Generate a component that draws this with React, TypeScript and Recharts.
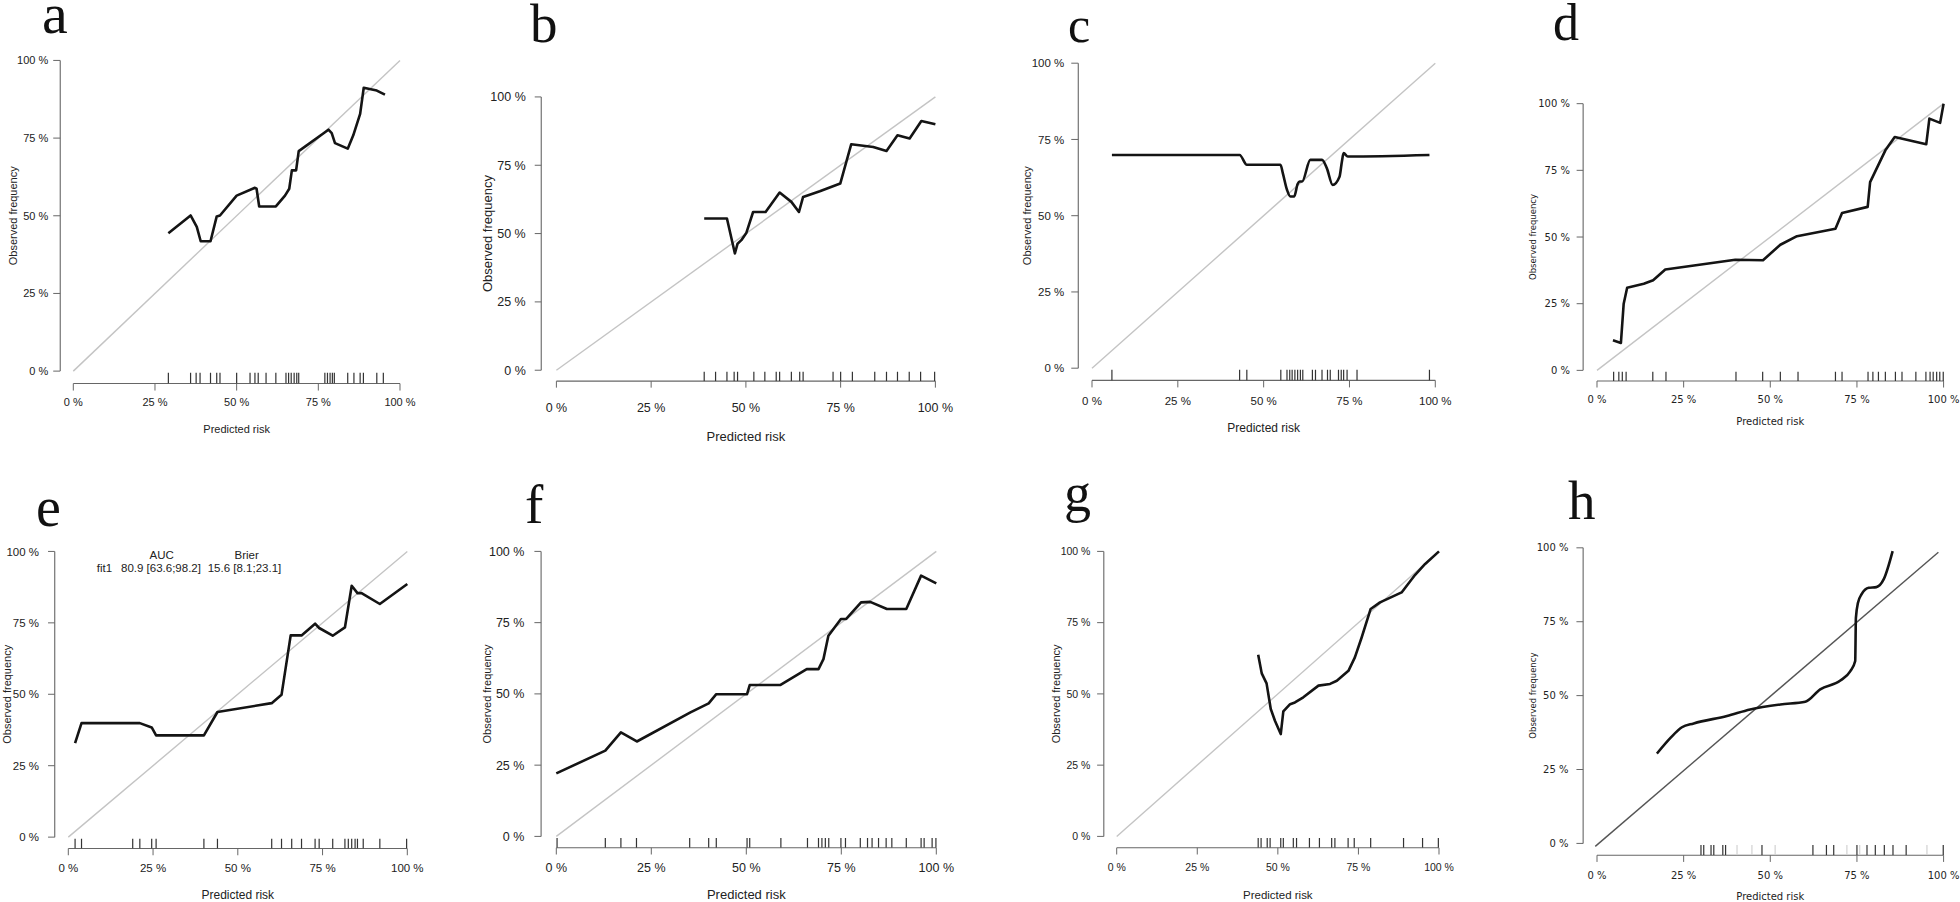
import React from "react";
import { ComposedChart, Line, Scatter, XAxis, YAxis, ReferenceLine } from "recharts";

// predicted risk (%) and observed frequency (%) for each calibration curve
const aPred = [29.1, 35.9, 37.8, 39.0, 42.0, 43.9, 44.9, 50.0, 55.6, 56.1, 56.9, 62.0, 64.8, 66.1, 66.9, 68.2, 69.0, 78.1, 79.1, 80.1, 84.0, 85.7, 87.8, 88.9, 92.9, 95.4];
const aObs = [44.4, 50.1, 46.4, 41.8, 41.8, 49.8, 50.1, 56.5, 59.0, 58.7, 53.0, 53.0, 56.5, 58.7, 64.6, 64.6, 70.8, 77.7, 76.6, 73.4, 71.6, 75.9, 82.8, 91.2, 90.3, 89.0];
const aRug = [29.1, 35.9, 37.6, 38.8, 42.0, 43.9, 44.9, 50.0, 54.1, 55.6, 56.6, 59.0, 62.0, 65.1, 65.9, 66.7, 67.6, 68.4, 69.0, 77.0, 77.8, 78.6, 79.3, 79.9, 84.0, 85.9, 87.8, 88.8, 92.9, 94.9];

const bPred = [39.0, 45.0, 47.1, 47.8, 48.8, 50.1, 51.9, 55.2, 58.9, 62.0, 64.0, 65.1, 69.5, 74.9, 77.8, 83.6, 87.1, 90.0, 93.2, 96.3, 100];
const bObs = [55.5, 55.5, 42.7, 46.3, 47.6, 50.2, 57.9, 57.9, 65.0, 61.6, 57.9, 63.4, 65.5, 68.3, 82.7, 81.7, 80.2, 86.0, 84.8, 91.2, 90.0];
const bRug = [39.0, 42.0, 45.0, 46.9, 47.8, 52.1, 55.0, 58.0, 58.9, 62.0, 64.2, 65.1, 73.0, 75.0, 78.1, 84.0, 87.1, 90.0, 93.1, 96.1, 99.8];

const cPred = [5.8, 43.0, 45.1, 54.9, 55.6, 56.8, 57.8, 58.9, 59.9, 60.5, 61.2, 63.6, 67.0, 68.4, 70.1, 72.1, 72.8, 73.3, 74.5, 98.3];
const cObs = [69.9, 69.9, 66.7, 66.7, 63.9, 58.5, 56.3, 56.3, 60.4, 61.2, 61.2, 68.3, 68.3, 65.6, 60.1, 62.8, 67.8, 70.5, 69.4, 69.9];
const cRug = [5.8, 43.0, 45.1, 55.0, 56.8, 57.6, 58.3, 59.1, 59.9, 60.7, 61.4, 64.2, 65.1, 67.0, 68.6, 69.4, 71.8, 72.6, 73.3, 74.3, 77.2, 98.3];

const dPred = [4.6, 6.9, 7.7, 8.7, 13.5, 16.2, 19.7, 39.9, 47.9, 52.9, 57.7, 68.8, 70.7, 78.1, 78.8, 83.2, 85.9, 95.0, 95.9, 99.0, 100];
const dObs = [11.3, 10.3, 25.0, 31.0, 32.5, 33.8, 37.8, 41.5, 41.3, 47.1, 50.3, 53.1, 59.0, 61.3, 70.6, 82.5, 87.5, 84.8, 94.4, 92.8, 100];
const dRug = [4.8, 6.3, 7.3, 8.4, 16.1, 19.9, 40.1, 47.8, 52.9, 58.0, 68.8, 70.7, 78.2, 79.6, 81.2, 83.2, 86.1, 88.0, 92.0, 94.9, 96.1, 97.0, 98.0, 98.9, 99.9];

const ePred = [2.0, 3.9, 21.1, 24.6, 25.9, 40.0, 44.0, 60.0, 62.9, 65.6, 68.8, 72.8, 74.0, 78.0, 81.6, 83.6, 85.3, 86.5, 91.9, 100];
const eObs = [32.9, 39.9, 39.9, 38.4, 35.6, 35.6, 43.8, 46.9, 49.8, 70.6, 70.6, 74.7, 73.2, 70.5, 73.4, 88.0, 85.4, 85.4, 81.6, 88.6];
const eRug = [2.0, 3.9, 19.0, 21.1, 24.6, 25.9, 40.0, 44.0, 60.0, 62.9, 65.9, 68.8, 72.8, 74.0, 78.0, 81.6, 82.6, 83.6, 84.6, 85.3, 87.0, 91.9, 99.8];

const fPred = [0, 12.9, 17.0, 21.2, 35.3, 40.1, 42.1, 50.2, 50.9, 58.9, 65.9, 69.0, 70.3, 71.6, 74.9, 76.3, 80.2, 82.6, 87.0, 92.1, 96.0, 100];
const fObs = [22.1, 30.1, 36.5, 33.3, 43.5, 46.7, 49.9, 49.9, 53.1, 53.1, 58.7, 58.7, 62.2, 70.4, 76.3, 76.3, 82.1, 82.3, 79.8, 79.8, 91.5, 88.8];
const fRug = [0.2, 12.9, 17.0, 21.1, 35.1, 40.1, 42.1, 50.2, 50.9, 59.1, 66.1, 69.0, 69.9, 70.8, 71.7, 74.9, 76.1, 80.0, 81.9, 83.1, 84.8, 86.8, 88.3, 92.1, 96.0, 96.8, 98.9, 99.9];

const gPred = [43.9, 45.0, 46.5, 47.8, 49.1, 50.9, 51.7, 53.8, 55.3, 57.9, 62.6, 66.2, 68.3, 71.9, 73.9, 76.0, 78.8, 81.7, 88.4, 92.6, 95.7, 100];
const gObs = [63.7, 57.2, 53.7, 44.7, 40.6, 35.9, 43.9, 46.4, 47.0, 48.8, 52.9, 53.5, 54.6, 58.1, 62.8, 69.8, 79.8, 82.1, 85.6, 91.8, 95.6, 100];
const gRug = [43.9, 44.8, 46.7, 47.6, 50.9, 51.7, 54.8, 55.8, 59.8, 62.9, 66.7, 67.7, 71.8, 73.7, 78.8, 89.0, 94.9, 99.8];

const hPred = [17.3, 21.2, 24.5, 27.9, 37.5, 44.2, 52.9, 60.1, 64.4, 70.2, 73.1, 74.5, 74.7, 75.3, 76.4, 78.4, 80.6, 82.7, 85.3];
const hObs = [30.4, 35.7, 39.3, 40.6, 43.1, 45.3, 47.0, 47.9, 52.1, 55.1, 58.3, 61.7, 76.3, 81.4, 84.4, 86.5, 86.7, 89.3, 98.9];
const hRug = [30.0, 30.8, 32.9, 33.7, 36.3, 37.1, 47.6, 62.3, 66.2, 68.3, 75.0, 77.9, 80.3, 82.9, 85.4, 89.2, 99.9];
const hRugFaint = [40.4, 44.7, 51.4, 72.1, 75.8, 95.2];

// reference diagonals
const diagX = [0, 100];
const diagY = [0, 100];
const hDiagX = [-0.5, 98.5];
const hDiagY = [-1, 98.5];

const axisTicks = [0, 0.25, 0.5, 0.75, 1];

const SANS = "'Liberation Sans', Arial, sans-serif";
const DEJAVU = "'DejaVu Sans', sans-serif";
const SERIF = "'Liberation Serif', 'Times New Roman', serif";
const AXIS = "#666";
const INK = "#222";

const toPoints = (xs: number[], ys: number[]) => xs.map((x, i) => ({ x: x / 100, y: ys[i] / 100 }));
const toRug = (xs: number[]) => xs.map((x) => ({ x: x / 100, y: -0.04 }));
const fmt = (v: number) => `${Math.round(v * 100)} %`;

type Layout = {
  x0: number; x1: number; y0: number; y1: number;
  yLab: number; xLab: number; tickTop: number; tickLen: number; yGap: number;
  font: string; tickFs: number; xFs: number; yFs: number;
};

const layouts: Record<string, Layout> = {
  a: { x0: 73.3, x1: 400, y0: 370.7, y1: 60, yLab: 13, xLab: 433, tickTop: 398, tickLen: 7, yGap: 5, font: SANS, tickFs: 11, xFs: 11, yFs: 11 },
  b: { x0: 556.7, x1: 935.7, y0: 370, y1: 96.7, yLab: 487.3, xLab: 441, tickTop: 402.7, tickLen: 6.5, yGap: 9, font: SANS, tickFs: 12.5, xFs: 13, yFs: 13 },
  c: { x0: 1091.7, x1: 1435, y0: 368.3, y1: 63.3, yLab: 1026.7, xLab: 432, tickTop: 396.7, tickLen: 7, yGap: 7, font: SANS, tickFs: 11.5, xFs: 12, yFs: 11 },
  d: { x0: 1596.7, x1: 1943.3, y0: 370, y1: 103.3, yLab: 1532.7, xLab: 424.7, tickTop: 395.7, tickLen: 6.5, yGap: 6.7, font: DEJAVU, tickFs: 10, xFs: 10, yFs: 8.5 },
  e: { x0: 68.3, x1: 407.3, y0: 836.7, y1: 551, yLab: 7, xLab: 898.7, tickTop: 863.7, tickLen: 6.7, yGap: 9, font: SANS, tickFs: 11.5, xFs: 12, yFs: 11 },
  f: { x0: 556, x1: 936, y0: 836.7, y1: 551.7, yLab: 486.7, xLab: 899.3, tickTop: 863.7, tickLen: 6.7, yGap: 10, font: SANS, tickFs: 12.5, xFs: 13, yFs: 11 },
  g: { x0: 1116.7, x1: 1439, y0: 836.7, y1: 551.7, yLab: 1056, xLab: 899.3, tickTop: 864.3, tickLen: 6.7, yGap: 6.7, font: SANS, tickFs: 10.5, xFs: 11.5, yFs: 11 },
  h: { x0: 1596.7, x1: 1943.3, y0: 843.3, y1: 547.7, yLab: 1532.7, xLab: 900, tickTop: 871.7, tickLen: 6.7, yGap: 8, font: DEJAVU, tickFs: 10, xFs: 10, yFs: 8.5 },
};

const rugShape = (len: number, color: string) => (p: any) => (
  <line x1={p.cx} x2={p.cx} y1={p.cy} y2={p.cy - len} stroke={color} strokeWidth={1.2} />
);

type PanelProps = {
  L: Layout;
  curve: { x: number; y: number }[];
  rug: { x: number; y: number }[];
  faintRug?: { x: number; y: number }[];
  diag: { x: number; y: number }[];
  diagStroke?: string;
  smooth?: boolean;
};

const Panel = ({ L, curve, rug, faintRug, diag, diagStroke = "#c4c4c4", smooth }: PanelProps) => {
  const dx = L.x1 - L.x0;
  const dy = L.y0 - L.y1;
  const pl = L.x0 - 0.04 * dx;
  const pr = L.x1 + 0.04 * dx;
  const pt = L.y1 - 0.04 * dy;
  const pb = L.y0 + 0.04 * dy;
  const left = L.yLab - 12;
  const wy = pl - left;
  const mt = 6;
  const mr = 8;
  const hx = L.xLab - pb + 2;
  const W = wy + (pr - pl) + mr;
  const H = mt + (pb - pt) + hx;
  const rugLen = 0.032 * (pb - pt);
  const tickStyle = { fontSize: L.tickFs, fill: INK, fontFamily: L.font };

  return (
    <div style={{ position: "absolute", left, top: pt - mt, fontFamily: L.font }}>
      <ComposedChart width={W} height={H} margin={{ top: mt, right: mr, bottom: 0, left: 0 }}>
        <XAxis
          type="number"
          dataKey="x"
          domain={[-0.04, 1.04]}
          allowDataOverflow
          ticks={axisTicks}
          interval={0}
          tickFormatter={fmt}
          axisLine={false}
          stroke={AXIS}
          tickSize={L.tickLen}
          tickMargin={L.tickTop - pb - L.tickLen}
          tick={tickStyle}
          height={hx}
          label={{ value: "Predicted risk", position: "insideBottom", offset: 2, fontSize: L.xFs, fill: INK, fontFamily: L.font }}
        />
        <YAxis
          type="number"
          domain={[-0.04, 1.04]}
          allowDataOverflow
          ticks={axisTicks}
          interval={0}
          tickFormatter={fmt}
          axisLine={false}
          stroke={AXIS}
          tickSize={L.tickLen}
          tickMargin={L.yGap}
          tick={tickStyle}
          width={wy}
          label={{
            value: "Observed frequency",
            angle: -90,
            position: "insideLeft",
            offset: 12,
            fontSize: L.yFs,
            fill: INK,
            fontFamily: L.font,
            style: { textAnchor: "middle" },
          }}
        />
        <ReferenceLine segment={[{ x: 0, y: -0.04 }, { x: 1, y: -0.04 }]} stroke={AXIS} strokeWidth={1.1} ifOverflow="visible" />
        <ReferenceLine segment={[{ x: -0.04, y: 0 }, { x: -0.04, y: 1 }]} stroke={AXIS} strokeWidth={1.1} ifOverflow="visible" />
        <Line data={diag} dataKey="y" type="linear" stroke={diagStroke} strokeWidth={1.4} dot={false} isAnimationActive={false} />
        {faintRug && (
          <Scatter data={faintRug} dataKey="y" shape={rugShape(rugLen, "#d2d2d2")} isAnimationActive={false} />
        )}
        <Scatter data={rug} dataKey="y" shape={rugShape(rugLen, "#333")} isAnimationActive={false} />
        <Line
          data={curve}
          dataKey="y"
          type={smooth ? "monotone" : "linear"}
          stroke="#141414"
          strokeWidth={2.6}
          strokeLinejoin="round"
          dot={false}
          isAnimationActive={false}
        />
      </ComposedChart>
    </div>
  );
};

const diag = toPoints(diagX, diagY);

export default function App() {
  return (
    <div style={{ position: "absolute", left: 0, top: 0, width: 1960, height: 902, background: "#fff", overflow: "hidden" }}>
      <Panel L={layouts.a} curve={toPoints(aPred, aObs)} rug={toRug(aRug)} diag={diag} />
      <Panel L={layouts.b} curve={toPoints(bPred, bObs)} rug={toRug(bRug)} diag={diag} />
      <Panel L={layouts.c} curve={toPoints(cPred, cObs)} rug={toRug(cRug)} diag={diag} smooth />
      <Panel L={layouts.d} curve={toPoints(dPred, dObs)} rug={toRug(dRug)} diag={diag} />
      <Panel L={layouts.e} curve={toPoints(ePred, eObs)} rug={toRug(eRug)} diag={diag} />
      <Panel L={layouts.f} curve={toPoints(fPred, fObs)} rug={toRug(fRug)} diag={diag} />
      <Panel L={layouts.g} curve={toPoints(gPred, gObs)} rug={toRug(gRug)} diag={diag} />
      <Panel
        L={layouts.h}
        curve={toPoints(hPred, hObs)}
        rug={toRug(hRug)}
        faintRug={toRug(hRugFaint)}
        diag={toPoints(hDiagX, hDiagY)}
        diagStroke="#555"
        smooth
      />
      <svg width={1960} height={902} style={{ position: "absolute", left: 0, top: 0, pointerEvents: "none" }}>
        <g fontFamily={SERIF} fill="#111">
          <text x={42} y={33} fontSize={58}>a</text>
          <text x={530} y={41.5} fontSize={55}>b</text>
          <text x={1068} y={41.5} fontSize={50}>c</text>
          <text x={1553} y={40} fontSize={52}>d</text>
          <text x={36} y={526} fontSize={56}>e</text>
          <text x={525} y={522.5} fontSize={55}>f</text>
          <text x={1064} y={511} fontSize={54}>g</text>
          <text x={1568} y={519.3} fontSize={55}>h</text>
        </g>
        <g fontFamily={SANS} fontSize={11.5} fill={INK}>
          <text x={161.7} y={559} textAnchor="middle">AUC</text>
          <text x={246.7} y={559} textAnchor="middle">Brier</text>
          <text x={96.7} y={572}>fit1</text>
          <text x={121} y={572}>80.9 [63.6;98.2]</text>
          <text x={207.7} y={572}>15.6 [8.1;23.1]</text>
        </g>
      </svg>
    </div>
  );
}
